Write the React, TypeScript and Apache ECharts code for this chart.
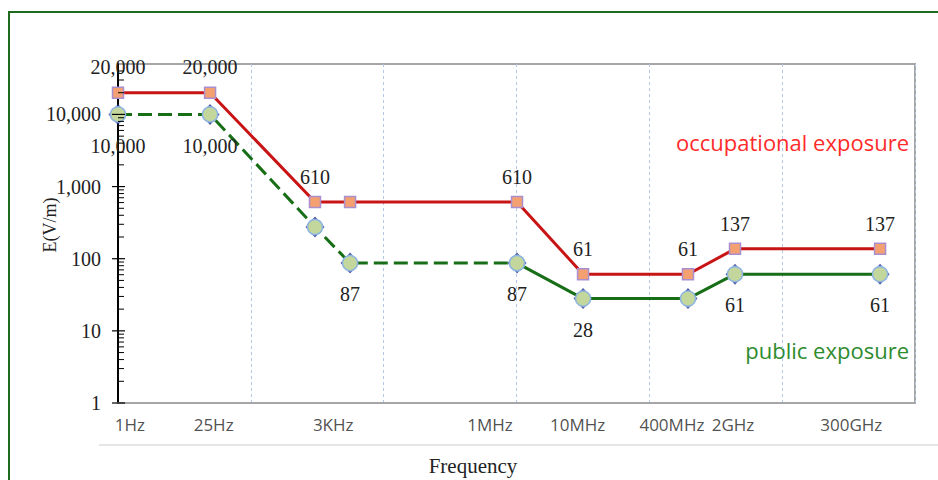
import React, { useEffect, useRef } from 'react';
import * as echarts from 'echarts';

// Data
const xPositions = [0, 0.693, 1.483, 1.747, 3.004, 3.501, 4.291, 4.645, 5.737];
const occupationalValues = [20000, 20000, 610, 610, 610, 61, 61, 137, 137];
const publicValues = [10000, 10000, 275, 87, 87, 28, 28, 61, 61];
const occupationalLabelShown = [true, true, true, false, true, true, true, true, true];
const publicLabelShown = [true, true, false, true, true, true, false, true, true];
const freqLabels = ['1Hz', '25Hz', '3KHz', '1MHz', '10MHz', '400MHz', '2GHz', '300GHz'];
const freqLabelPositions = [0.09, 0.72, 1.62, 2.8, 3.46, 4.17, 4.63, 5.52];
const yMajorTicks = [1, 10, 100, 1000, 10000];
const yMinorMultipliers = [2, 3, 4, 5, 6, 7, 8, 9];

const SERIF = '"Liberation Serif", "Times New Roman", serif';
const SANS = '"Open Sans", "Noto Sans", sans-serif';

const fmt = (v: number) => Math.round(v).toLocaleString('en-US');

export default function App() {
  const ref = useRef<HTMLDivElement>(null);
  useEffect(() => {
    document.body.style.margin = '0';
    const chart = echarts.init(ref.current!, null, { renderer: 'svg' });

    const minorTicks: number[][] = [];
    yMajorTicks.forEach((p) => {
      yMinorMultipliers.forEach((m) => {
        if (p * m < 50000) minorTicks.push([0, p * m]);
      });
    });
    const majorTicks = yMajorTicks.map((v) => [0, v]);

    const occData = xPositions.map((x, i) => ({
      value: [x, occupationalValues[i]],
      label: { show: occupationalLabelShown[i] },
    }));
    const pubPoints = xPositions.map((x, i) => ({
      value: [x, publicValues[i]],
      label: { show: publicLabelShown[i] },
    }));
    const pubDashed = pubPoints.slice(0, 5);
    const pubSolid = pubPoints.slice(4).map((d, i) => (i === 0 ? { ...d, label: { show: false } } : d));

    const dataLabel = (pos: 'top' | 'bottom', dist: number) => ({
      show: true,
      position: pos,
      distance: dist,
      color: '#222',
      fontFamily: SERIF,
      fontSize: 20,
      formatter: (p: any) => fmt(p.value[1]),
    });

    const greenSymbolStyle = {
      color: '#c3d69b',
      borderColor: '#8db4e2',
      borderWidth: 1.5,
    };

    const option: any = {
      animation: false,
      backgroundColor: '#fff',
      grid: {
        left: 118,
        top: 64,
        right: 23,
        bottom: 77,
        show: true,
        borderColor: '#a6a6a6',
        borderWidth: 2,
        backgroundColor: 'transparent',
      },
      xAxis: {
        type: 'value',
        min: 0,
        max: 6,
        interval: 1,
        axisLine: { show: true, lineStyle: { color: '#a6a6a6', width: 2 } },
        axisTick: { show: false },
        axisLabel: { show: false },
        splitLine: { show: true, lineStyle: { color: '#b4c7e7', type: [3, 3], width: 1 } },
      },
      yAxis: {
        type: 'log',
        logBase: 10,
        min: 1,
        max: 50000,
        axisLine: { show: true, lineStyle: { color: '#000', width: 2 } },
        axisTick: { show: false },
        splitLine: { show: false },
        axisLabel: {
          margin: 17,
          color: '#222',
          fontFamily: SERIF,
          fontSize: 20,
          formatter: (v: number) => {
            const l = Math.log10(v);
            return Math.abs(l - Math.round(l)) < 1e-6 ? fmt(v) : '';
          },
        },
      },
      graphic: [
        {
          type: 'rect',
          shape: { x: 9, y: 12, width: 1000, height: 1000 },
          style: { fill: 'none', stroke: '#1e6b1e', lineWidth: 2 },
          silent: true,
        },
        {
          type: 'line',
          shape: { x1: 99, y1: 445, x2: 938, y2: 445 },
          style: { stroke: '#dcdcdc', lineWidth: 1.5 },
          silent: true,
        },
        {
          type: 'text',
          x: 473,
          y: 466,
          style: { text: 'Frequency', fill: '#222', font: `21px ${SERIF}`, textAlign: 'center', textVerticalAlign: 'middle' },
        },
        {
          type: 'text',
          x: 50,
          y: 225,
          rotation: Math.PI / 2,
          style: { text: 'E(V/m)', fill: '#222', font: `18px ${SERIF}`, textAlign: 'center', textVerticalAlign: 'middle' },
        },
        {
          type: 'text',
          x: 909,
          y: 142,
          style: { text: 'occupational exposure', fill: '#ff2b2b', font: `22px ${SANS}`, textAlign: 'right', textVerticalAlign: 'middle' },
        },
        {
          type: 'text',
          x: 909,
          y: 350,
          style: { text: 'public exposure', fill: '#2e8b2e', font: `22px ${SANS}`, textAlign: 'right', textVerticalAlign: 'middle' },
        },
      ],
      series: [
        {
          name: 'minorTicks',
          type: 'custom',
          silent: true,
          clip: false,
          renderItem: (params: any, api: any) => {
            const p = api.coord([api.value(0), api.value(1)]);
            return {
              type: 'line',
              shape: { x1: p[0], y1: p[1], x2: p[0] + 6, y2: p[1] },
              style: { stroke: '#000', lineWidth: 1 },
            };
          },
          data: minorTicks,
          z: 5,
        },
        {
          name: 'majorTicks',
          type: 'custom',
          silent: true,
          clip: false,
          renderItem: (params: any, api: any) => {
            const p = api.coord([api.value(0), api.value(1)]);
            return {
              type: 'line',
              shape: { x1: p[0] - 6, y1: p[1], x2: p[0] + 7, y2: p[1] },
              style: { stroke: '#000', lineWidth: 1.2 },
            };
          },
          data: majorTicks,
          z: 5,
        },
        {
          name: 'freqLabels',
          type: 'scatter',
          silent: true,
          clip: false,
          symbolSize: 0,
          data: freqLabelPositions.map((x, i) => ({ value: [x, 1], name: freqLabels[i] })),
          label: {
            show: true,
            position: 'bottom',
            distance: 13,
            color: '#222',
            fontFamily: SANS,
            fontSize: 17,
            formatter: (p: any) => p.name,
          },
        },
        {
          name: 'public exposure (dashed)',
          type: 'line',
          data: pubDashed,
          symbol: 'circle',
          symbolSize: 15,
          itemStyle: greenSymbolStyle,
          lineStyle: { color: '#176e17', width: 3, type: [14, 6] },
          label: dataLabel('bottom', 13),
          z: 3,
        },
        {
          name: 'public exposure',
          type: 'line',
          data: pubSolid,
          symbol: 'circle',
          symbolSize: 15,
          itemStyle: greenSymbolStyle,
          lineStyle: { color: '#176e17', width: 3 },
          label: dataLabel('bottom', 13),
          z: 3,
        },
        {
          name: 'public markers',
          type: 'scatter',
          silent: true,
          data: xPositions.map((x, i) => [x, publicValues[i]]),
          symbol: 'diamond',
          symbolSize: [19, 21],
          itemStyle: { color: '#26318f' },
          z: 2,
        },
        {
          name: 'occupational exposure',
          type: 'line',
          data: occData,
          symbol: 'rect',
          symbolSize: 11,
          itemStyle: { color: '#f4a070', borderColor: '#a98fd0', borderWidth: 1.5 },
          lineStyle: { color: '#c81414', width: 3 },
          label: dataLabel('top', 9),
          z: 4,
        },
      ],
    };

    chart.setOption(option);
    return () => chart.dispose();
  }, []);
  return <div ref={ref} style={{ width: 938, height: 480 }} />;
}
